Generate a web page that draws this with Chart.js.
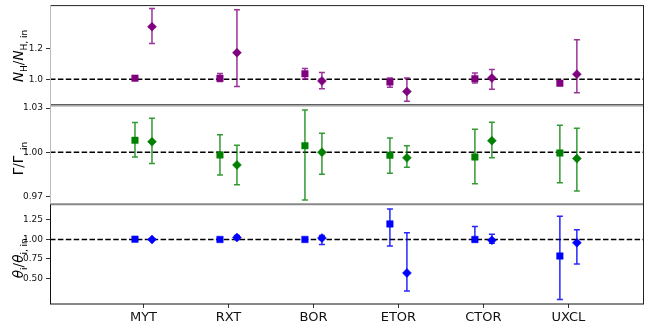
<!DOCTYPE html>
<html>
<head>
<meta charset="utf-8">
<script src="https://cdn.jsdelivr.net/npm/chart.js@4.4.1/dist/chart.umd.min.js"></script>
<style>
  html, body { margin: 0; padding: 0; background: #fff; }
  #wrap { width: 654px; height: 327px; }
</style>
</head>
<body>
<div id="wrap"><canvas id="grafico" width="654" height="327"></canvas></div>
<script>
// categorias no eixo x
const categorias = ['MYT', 'RXT', 'BOR', 'ETOR', 'CTOR', 'UXCL'];

// painel 1: N_H / N_H,in (roxo)
const nhQuad    = [1.007, 1.006, 1.035, 0.982, 1.004, 0.974];
const nhQuadMin = [1.000, 0.985, 1.000, 0.948, 0.976, 0.974];
const nhQuadMax = [1.014, 1.037, 1.070, 1.008, 1.040, 0.974];
const nhLos     = [1.340, 1.172, 0.989, 0.920, 1.008, 1.033];
const nhLosMin  = [1.231, 0.953, 0.939, 0.858, 0.935, 0.912];
const nhLosMax  = [1.458, 1.450, 1.043, 1.008, 1.063, 1.255];
const nhTicks   = [1.0, 1.2];

// painel 2: Gamma / Gamma,in (verde)
const gQuad    = [1.0081, 0.9982, 1.0045, 0.9980, 0.9968, 0.9995];
const gQuadMin = [0.9968, 0.9845, 0.9676, 0.9858, 0.9786, 0.9793];
const gQuadMax = [1.0202, 1.0119, 1.0288, 1.0097, 1.0157, 1.0184];
const gLos     = [1.0072, 0.9914, 1.0000, 0.9962, 1.0079, 0.9957];
const gLosMin  = [0.9924, 0.9780, 0.9850, 0.9899, 0.9962, 0.9737];
const gLosMax  = [1.0231, 1.0047, 1.0130, 1.0045, 1.0204, 1.0164];
const gTicks   = [0.97, 1.00, 1.03];

// painel 3: theta_i / theta_i,in (azul)
const tQuad    = [1.004, 1.000, 1.000, 1.199, 1.000, 0.788];
const tQuadMin = [1.000, 0.990, 0.990, 0.915, 0.970, 0.230];
const tQuadMax = [1.010, 1.010, 1.010, 1.390, 1.165, 1.296];
const tLos     = [1.000, 1.025, 1.017, 0.572, 0.990, 0.958];
const tLosMin  = [0.990, 1.000, 0.937, 0.340, 0.950, 0.687];
const tLosMax  = [1.010, 1.050, 1.050, 1.085, 1.067, 1.125];
const tTicks   = [0.50, 0.75, 1.00, 1.25];

const DESLOC = 0.1; // deslocamento quadrado / losango em torno da categoria

function pontos(vals, dx) {
    return vals.map((v, i) => ({ x: i + 1 + dx, y: v }));
}

function serie(vals, lo, hi, eixo, cor, corErro, estilo, dx, raio) {
    return {
        data: pontos(vals, dx),
        yAxisID: eixo,
        backgroundColor: cor,
        borderColor: cor,
        pointStyle: estilo,
        pointRadius: raio,
        pointHoverRadius: raio,
        pointBorderWidth: 0.5,
        showLine: false,
        errMin: lo,
        errMax: hi,
        corErro: corErro
    };
}

const datasets = [
    serie(nhQuad, nhQuadMin, nhQuadMax, 'y1', '#800080', 'rgba(128,0,128,0.8)', 'rect', -DESLOC, 4.6),
    serie(nhLos, nhLosMin, nhLosMax, 'y1', '#800080', 'rgba(128,0,128,0.8)', 'rectRot', DESLOC, 4.5),
    serie(gQuad, gQuadMin, gQuadMax, 'y2', '#008000', 'rgba(0,128,0,0.8)', 'rect', -DESLOC, 4.6),
    serie(gLos, gLosMin, gLosMax, 'y2', '#008000', 'rgba(0,128,0,0.8)', 'rectRot', DESLOC, 4.5),
    serie(tQuad, tQuadMin, tQuadMax, 'y3', '#0000ff', 'rgba(0,0,255,0.85)', 'rect', -DESLOC, 4.6),
    serie(tLos, tLosMin, tLosMax, 'y3', '#0000ff', 'rgba(0,0,255,0.85)', 'rectRot', DESLOC, 4.5)
];

// barras de erro + linha tracejada em 1
const pluginErros = {
    id: 'erros',
    beforeDatasetsDraw(chart) {
        const ctx = chart.ctx;
        const area = chart.chartArea;
        ctx.save();
        // linhas tracejadas em y = 1
        ['y1', 'y2', 'y3'].forEach(id => {
            const py = chart.scales[id].getPixelForValue(1);
            ctx.strokeStyle = '#000';
            ctx.lineWidth = 1.5;
            ctx.setLineDash([5.5, 2.4]);
            ctx.beginPath();
            ctx.moveTo(area.left, py);
            ctx.lineTo(area.right, py);
            ctx.stroke();
        });
        ctx.setLineDash([]);
        chart.data.datasets.forEach((ds, d) => {
            const meta = chart.getDatasetMeta(d);
            const esc = chart.scales[ds.yAxisID];
            ctx.strokeStyle = ds.corErro;
            ctx.lineWidth = 1.5;
            meta.data.forEach((pt, i) => {
                const y0 = esc.getPixelForValue(ds.errMin[i]);
                const y1 = esc.getPixelForValue(ds.errMax[i]);
                if (Math.abs(y0 - y1) < 0.5) return;
                ctx.beginPath();
                ctx.moveTo(pt.x, y0); ctx.lineTo(pt.x, y1);
                ctx.moveTo(pt.x - 3, y0); ctx.lineTo(pt.x + 3, y0);
                ctx.moveTo(pt.x - 3, y1); ctx.lineTo(pt.x + 3, y1);
                ctx.stroke();
            });
        });
        ctx.restore();
    },
    afterDraw(chart) {
        const ctx = chart.ctx;
        const a = chart.chartArea;
        const s1 = chart.scales.y1, s2 = chart.scales.y2, s3 = chart.scales.y3;
        ctx.save();
        function linha(x0, y0, x1, y1, cor, lw) {
            ctx.strokeStyle = cor;
            ctx.lineWidth = lw;
            ctx.beginPath();
            ctx.moveTo(x0, y0); ctx.lineTo(x1, y1);
            ctx.stroke();
        }
        // molduras
        linha(a.left, s1.top + 0.5, a.right, s1.top + 0.5, '#222', 1);
        linha(a.left, s1.bottom, a.right, s1.bottom, '#333', 1);
        linha(a.left, s1.bottom + 1.2, a.right, s1.bottom + 1.2, '#999', 1.2);
        linha(a.left, s2.bottom, a.right, s2.bottom, '#888', 2);
        linha(a.left, a.bottom, a.right, a.bottom, '#111', 1);
        linha(a.right - 0.5, a.top, a.right - 0.5, a.bottom, '#222', 1);
        linha(a.left + 0.5, s1.top, a.left + 0.5, s2.bottom, '#bbb', 1);
        linha(a.left + 0.5, s3.top, a.left + 0.5, a.bottom, '#111', 1);

        // titulos dos eixos y com subscritos
        const titulos = [
            { esc: s1, desl: 1, partes: [
                { t: 'N', it: true }, { t: 'H', sub: true }, { t: '/' },
                { t: 'N', it: true }, { t: 'H, in', sub: true }] },
            { esc: s2, desl: 4, partes: [
                { t: 'Γ' }, { t: '/' }, { t: 'Γ' }, { t: ', in', sub: true }] },
            { esc: s3, desl: 4, partes: [
                { t: 'θ', it: true }, { t: 'i', sub: true }, { t: '/' },
                { t: 'θ', it: true }, { t: 'i, in', sub: true }] }
        ];
        ctx.fillStyle = '#000';
        titulos.forEach(tt => {
            const cy = (tt.esc.top + tt.esc.bottom) / 2 + tt.desl;
            const fonte = p => (p.it ? 'italic ' : '') + (p.sub ? '9px' : '13.5px') + ' "DejaVu Sans"';
            let w = 0;
            tt.partes.forEach(p => { ctx.font = fonte(p); w += ctx.measureText(p.t).width; });
            ctx.save();
            ctx.translate(19, cy);
            ctx.rotate(-Math.PI / 2);
            ctx.textBaseline = 'alphabetic';
            ctx.textAlign = 'left';
            let x = -w / 2;
            tt.partes.forEach(p => {
                ctx.font = fonte(p);
                ctx.fillText(p.t, x, p.sub ? 7.6 : 4.4);
                x += ctx.measureText(p.t).width;
            });
            ctx.restore();
        });
        ctx.restore();
    }
};

function eixoY(min, max, ticks, casas) {
    return {
        type: 'linear',
        position: 'left',
        stack: 'paineis',
        stackWeight: 1,
        min: min,
        max: max,
        afterFit: s => { s.width = 50; s.paddingTop = 0; s.paddingBottom = 0; },
        afterBuildTicks: s => { s.ticks = ticks.map(v => ({ value: v })); },
        ticks: {
            callback: v => Number(v).toFixed(casas),
            font: { family: 'DejaVu Sans', size: 9 },
            color: '#111',
            padding: 3
        },
        grid: { drawOnChartArea: false, drawTicks: true, tickLength: 4, color: '#333' },
        border: { display: false }
    };
}

new Chart(document.getElementById('grafico'), {
    type: 'scatter',
    data: { datasets: datasets },
    options: {
        responsive: false,
        animation: false,
        events: [],
        layout: { padding: { left: 0, right: 10, top: 3, bottom: 0 } },
        plugins: { legend: { display: false }, tooltip: { enabled: false } },
        scales: {
            x: {
                type: 'linear',
                min: -0.1,
                max: 6.89,
                afterFit: s => { s.height = 23; s.paddingLeft = 0; s.paddingRight = 0; },
                afterBuildTicks: s => { s.ticks = categorias.map((c, i) => ({ value: i + 1 })); },
                ticks: {
                    callback: v => categorias[v - 1],
                    font: { family: 'DejaVu Sans', size: 13 },
                    color: '#111',
                    padding: 2,
                    maxRotation: 0,
                    autoSkip: false
                },
                grid: { drawOnChartArea: false, drawTicks: true, tickLength: 4, color: '#333' },
                border: { display: false }
            },
            // ordem invertida: o ultimo eixo definido fica no topo da pilha
            y3: eixoY(0.174, 1.449, tTicks, 2),
            y2: eixoY(0.9646, 1.0323, gTicks, 2),
            y1: eixoY(0.835, 1.48, nhTicks, 1)
        }
    },
    plugins: [pluginErros]
});
</script>
</body>
</html>
